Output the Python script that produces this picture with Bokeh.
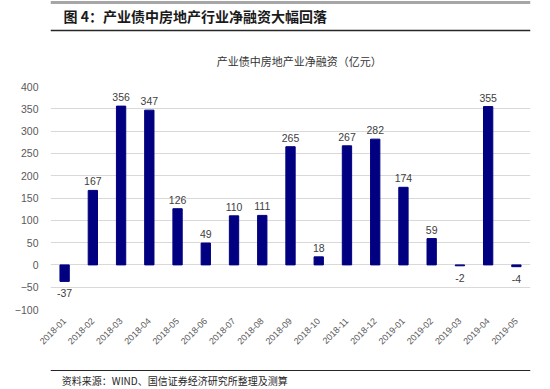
from bokeh.plotting import figure
from bokeh.models import ColumnDataSource, FactorRange, Range1d, FixedTicker
from bokeh.layouts import column
from bokeh.core.properties import value
from bokeh.embed import file_html
from bokeh.resources import INLINE

months = ["2018-01", "2018-02", "2018-03", "2018-04", "2018-05", "2018-06",
          "2018-07", "2018-08", "2018-09", "2018-10", "2018-11", "2018-12",
          "2019-01", "2019-02", "2019-03", "2019-04", "2019-05"]
net_financing = [-37, 167, 356, 347, 126, 49, 110, 111, 265, 18, 267, 282,
                 174, 59, -2, 355, -4]
y_ticks = [-100, -50, 0, 50, 100, 150, 200, 250, 300, 350, 400]

fig_title = "图 4：产业债中房地产行业净融资大幅回落"
chart_title = "产业债中房地产业净融资（亿元）"
source_note = "资料来源：WIND、国信证券经济研究所整理及测算"

CJK = "Noto Sans CJK SC"
LAT = "Liberation Sans"
W = 550

# ---------- header ----------
h = figure(width=W, height=70, x_range=Range1d(0, W), y_range=Range1d(70, 0),
           output_backend="svg", toolbar_location=None, min_border=0)
h.axis.visible = False
h.grid.visible = False
h.outline_line_color = None
h.segment(x0=[0], y0=[2], x1=[W], y1=[2], line_color="#a6a6a6", line_width=3)
h.segment(x0=[0], y0=[30], x1=[W], y1=[30], line_color="#262626", line_width=1.5)
h.text(x=[15], y=[15], text=[fig_title], text_font=value(CJK), text_font_size="14px",
       text_font_style="bold", text_color="#1a1a1a", text_baseline="middle", text_align="left")
h.text(x=[285], y=[60], text=[chart_title], text_font=value(CJK), text_font_size="11px",
       text_color="#333333", text_baseline="middle", text_align="center")

# ---------- main chart ----------
pos_idx = [i for i, v in enumerate(net_financing) if v >= 0]
neg_idx = [i for i, v in enumerate(net_financing) if v < 0]
src = ColumnDataSource(dict(m=months, v=net_financing))
src_pos = ColumnDataSource(dict(m=[months[i] for i in pos_idx], v=[net_financing[i] for i in pos_idx],
                                t=[str(net_financing[i]) for i in pos_idx]))
src_neg = ColumnDataSource(dict(m=[months[i] for i in neg_idx], v=[net_financing[i] for i in neg_idx],
                                t=[str(net_financing[i]) for i in neg_idx]))

p = figure(width=W, height=285, x_range=FactorRange(*months, range_padding=0),
           y_range=Range1d(-100, 400), output_backend="svg", toolbar_location=None,
           min_border_left=50, min_border_right=20, min_border_top=16, min_border_bottom=46)
p.outline_line_color = None
p.xgrid.visible = False
p.ygrid.grid_line_color = "#d9d9d9"
p.ygrid.grid_line_width = 1
p.yaxis.ticker = FixedTicker(ticks=y_ticks)
for ax in (p.xaxis, p.yaxis):
    ax.axis_line_color = None
    ax.major_tick_line_color = None
    ax.minor_tick_line_color = None
    ax.major_label_text_color = "#595959"
    ax.major_label_text_font = LAT
p.yaxis.major_label_text_font_size = "10.5px"
p.yaxis.major_label_standoff = 6
p.xaxis.major_label_text_font_size = "9px"
p.xaxis.major_label_orientation = 0.785398
p.xaxis.major_label_standoff = 4

p.vbar(x="m", top="v", bottom=0, width=0.33, source=src, fill_color="#000080",
       line_color="#000080")
p.text(x="m", y="v", text="t", source=src_pos, text_font=value(LAT), text_font_size="10.5px",
       text_color="#404040", text_align="center", text_baseline="bottom", y_offset=-5)
p.text(x="m", y="v", text="t", source=src_neg, text_font=value(LAT), text_font_size="10.5px",
       text_color="#404040", text_align="center", text_baseline="top", y_offset=8)

# ---------- footer ----------
f = figure(width=W, height=34, x_range=Range1d(0, W), y_range=Range1d(34, 0),
           output_backend="svg", toolbar_location=None, min_border=0)
f.axis.visible = False
f.grid.visible = False
f.outline_line_color = None
f.segment(x0=[0], y0=[15], x1=[W], y1=[15], line_color="#262626", line_width=1.2)
f.text(x=[13], y=[25], text=[source_note], text_font=value(CJK), text_font_size="10px",
       text_color="#262626", text_baseline="middle", text_align="left")

layout = column(h, p, f, spacing=0)
open("out.html", "w").write(file_html(layout, INLINE))
